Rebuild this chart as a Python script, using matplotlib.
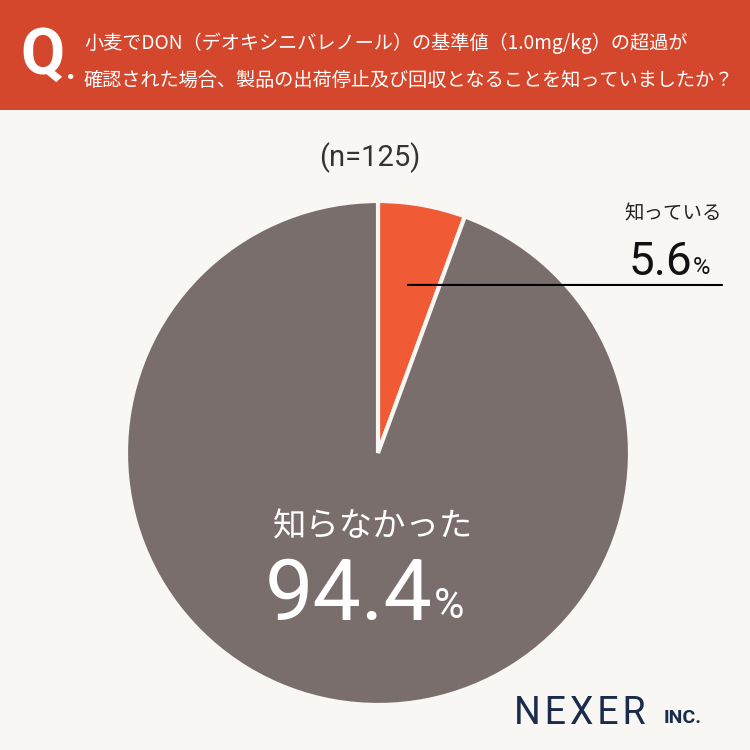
import numpy as np
import matplotlib.pyplot as plt
from matplotlib.patches import Rectangle

plt.rcParams['font.family'] = ['Noto Sans CJK JP', 'DejaVu Sans']

labels = ['知っている', '知らなかった']
values = [5.6, 94.4]
colors = ['#F05A35', '#7A6E6D']
n_total = 125
question = ['小麦でDON（デオキシニバレノール）の基準値（1.0mg/kg）の超過が',
            '確認された場合、製品の出荷停止及び回収となることを知っていましたか？']

bg = '#F8F7F3'
W = H = 750.0
num_font = ['Roboto', 'DejaVu Sans']

fig = plt.figure(figsize=(7.5, 7.5), dpi=100, facecolor=bg)

def fx(px):
    return px / W

def fy(py):
    return 1 - py / H

# header band
fig.patches.append(Rectangle((0, fy(110)), 1, 110 / H, transform=fig.transFigure,
                             facecolor='#D5472C', edgecolor='none', zorder=0))
fig.text(fx(20), fy(56), 'Q', color='white', fontsize=46, fontweight='bold',
         ha='left', va='center', family=num_font)
fig.text(fx(66), fy(70), '.', color='white', fontsize=24, fontweight='bold',
         ha='left', va='center', family=num_font)
fig.text(fx(84), fy(43), question[0], color='white', fontsize=13.8, ha='left', va='center')
fig.text(fx(84), fy(80), question[1], color='white', fontsize=13.8, ha='left', va='center')

fig.text(fx(370), fy(158), f'(n={n_total})', color='#333333', fontsize=21,
         ha='center', va='center', family=num_font)

# pie
cx, cy, r = 378, 453, 252
ax = fig.add_axes([fx(cx - r), fy(cy + r), 2 * r / W, 2 * r / H])
ax.set_facecolor('none')
wedges, _ = ax.pie(values, colors=colors, startangle=90, counterclock=False,
                   wedgeprops=dict(edgecolor=bg, linewidth=3))
ax.set_xlim(-1, 1)
ax.set_ylim(-1, 1)
ax.set_aspect('equal')
ax.axis('off')

# leader line from inside the small wedge to the right edge
mid = np.deg2rad(90 - values[0] * 3.6 / 2)
line_y = 0.667
line_x = line_y / np.tan(mid)
ax.annotate('', xy=(line_x, line_y), xycoords='data',
            xytext=(fx(722), fy(285)), textcoords='figure fraction',
            arrowprops=dict(arrowstyle='-', color='black', lw=1.5,
                            shrinkA=0, shrinkB=0))

fig.text(fx(722), fy(214), labels[0], color='#222222', fontsize=14, ha='right', va='center')
fig.text(fx(692), fy(262), f'{values[0]}', color='#111111', fontsize=33,
         ha='right', va='center', family=num_font)
fig.text(fx(693), fy(268), '%', color='#111111', fontsize=17,
         ha='left', va='center', family=num_font)

fig.text(fx(373), fy(527), labels[1], color='white', fontsize=24, ha='center', va='center')
fig.text(fx(433), fy(596), f'{values[1]}', color='white', fontsize=62,
         ha='right', va='center', family=num_font)
fig.text(fx(434), fy(607), '%', color='white', fontsize=30,
         ha='left', va='center', family=num_font)

# logo
fig.text(fx(514), fy(714), 'N E X E R'.replace(' ', '\u200a'), color='#1B2B4B',
         fontsize=27, ha='left', va='center', family=num_font)
fig.text(fx(664), fy(718), 'INC.', color='#1B2B4B', fontsize=14, fontweight='bold',
         ha='left', va='center', family=num_font)

fig.savefig('out.png', dpi=100, facecolor=bg)
